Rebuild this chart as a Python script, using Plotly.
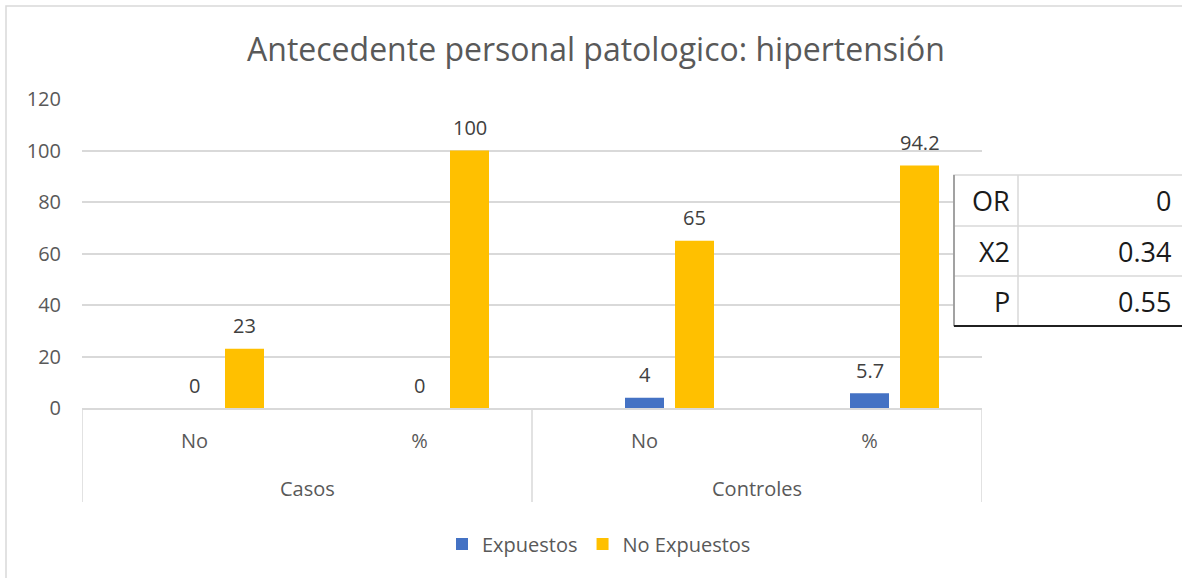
import plotly.graph_objects as go

# ---- data ----
group_labels = ["Casos", "Controles"]
sub_labels = ["No", "%", "No", "%"]
expuestos = [0, 0, 4, 5.7]
no_expuestos = [23, 100, 65, 94.2]
series_names = ["Expuestos", "No Expuestos"]
y_ticks = [0, 20, 40, 60, 80, 100, 120]
title_text = "Antecedente personal patologico: hipertensión"
table_labels = ["OR", "X2", "P"]
table_values = ["0", "0.34", "0.55"]

# ---- styling ----
BLUE = "#4472C4"
YELLOW = "#FFC000"
TXT = "#595959"
LBL = "#404040"
GRID = "#D9D9D9"
FONT = "Open Sans"
FS = 20

W, H = 1182, 578
L, R, T, B = 82, 200, 99, 170
PW = W - L - R
PH = H - T - B


def px_x(p):
    return (p - L) / PW


def px_y(p):
    return (H - B - p) / PH


n_cat = len(sub_labels)
cat_px = PW / n_cat                    # pixel width of one category
x_idx = list(range(n_cat))
bar_w = 39 / cat_px
offs = [0.0, 50 / cat_px]              # bar centre offsets within a category

fig = go.Figure()
for vals, name, col, off in [(expuestos, series_names[0], BLUE, offs[0]),
                             (no_expuestos, series_names[1], YELLOW, offs[1])]:
    fig.add_trace(go.Bar(x=x_idx, y=vals, name=name, marker_color=col,
                         marker_line_width=0, width=bar_w, offset=off - bar_w / 2,
                         hoverinfo="y"))

shapes = []
annotations = []

# data labels
for vals, off in [(expuestos, offs[0]), (no_expuestos, offs[1])]:
    for i, v in zip(x_idx, vals):
        annotations.append(dict(x=i + off, y=v, xref="x", yref="y", text=f"{v:g}",
                                showarrow=False, yshift=23, yanchor="middle",
                                font=dict(family=FONT, size=FS, color=LBL)))

# outer category labels and dividers
per_group = n_cat // len(group_labels)
for g, lab in enumerate(group_labels):
    xc = g * per_group + (per_group - 1) / 2
    annotations.append(dict(x=xc, y=px_y(488), xref="x", yref="paper", text=lab,
                            showarrow=False, yanchor="middle",
                            font=dict(family=FONT, size=FS, color=TXT)))
for g in range(len(group_labels) + 1):
    xd = g * per_group - 0.5
    shapes.append(dict(type="line", xref="x", yref="paper", x0=xd, x1=xd,
                       y0=0, y1=px_y(502), line=dict(color=GRID, width=1.5)))

# chart border (cropped on right / bottom)
shapes.append(dict(type="rect", xref="paper", yref="paper",
                   x0=px_x(6), x1=px_x(W + 20), y0=px_y(H + 20), y1=px_y(6),
                   line=dict(color=GRID, width=1.5), fillcolor="rgba(0,0,0,0)",
                   layer="below"))

# table
tx0, tx1, tx2 = 954, 1018, 1182
ty = [175, 226, 276, 326]
shapes.append(dict(type="rect", xref="paper", yref="paper",
                   x0=px_x(tx0), x1=px_x(tx2 + 5), y0=px_y(ty[3]), y1=px_y(ty[0]),
                   fillcolor="white", line=dict(color=GRID, width=1.5), layer="above"))
for yy in ty[1:3]:
    shapes.append(dict(type="line", xref="paper", yref="paper",
                       x0=px_x(tx0), x1=px_x(tx2 + 5), y0=px_y(yy), y1=px_y(yy),
                       line=dict(color=GRID, width=1.5), layer="above"))
shapes.append(dict(type="line", xref="paper", yref="paper",
                   x0=px_x(tx1), x1=px_x(tx1), y0=px_y(ty[3]), y1=px_y(ty[0]),
                   line=dict(color=GRID, width=1.5), layer="above"))
shapes.append(dict(type="line", xref="paper", yref="paper",
                   x0=px_x(tx0), x1=px_x(tx0), y0=px_y(ty[3]), y1=px_y(ty[0]),
                   line=dict(color="#8C8C8C", width=1.5), layer="above"))
shapes.append(dict(type="line", xref="paper", yref="paper",
                   x0=px_x(tx0), x1=px_x(tx2 + 5), y0=px_y(ty[3]), y1=px_y(ty[3]),
                   line=dict(color="#202020", width=2), layer="above"))
for i, (lab, val) in enumerate(zip(table_labels, table_values)):
    yc = px_y((ty[i] + ty[i + 1]) / 2)
    annotations.append(dict(xref="paper", yref="paper", x=px_x(tx1 - 6), y=yc,
                            text=lab, showarrow=False, xanchor="right", yanchor="middle",
                            font=dict(family=FONT, size=27, color="#1A1A1A")))
    annotations.append(dict(xref="paper", yref="paper", x=px_x(tx2 - 9), y=yc,
                            text=val, showarrow=False, xanchor="right", yanchor="middle",
                            font=dict(family=FONT, size=27, color="#1A1A1A")))

fig.update_layout(
    width=W, height=H,
    margin=dict(l=L, r=R, t=T, b=B),
    paper_bgcolor="white", plot_bgcolor="white",
    font=dict(family=FONT, color=TXT, size=FS),
    title=dict(text=title_text, x=596 / W, xanchor="center", xref="container",
               y=1 - 50 / H, yref="container", yanchor="middle",
               font=dict(family=FONT, size=32, color=TXT)),
    barmode="overlay",
    legend=dict(orientation="h", x=px_x(599), xanchor="center",
                y=px_y(544), yanchor="middle",
                font=dict(family=FONT, size=FS, color=TXT),
                itemwidth=30, tracegroupgap=0),
    xaxis=dict(range=[-0.5, n_cat - 0.5], tickvals=x_idx, ticktext=sub_labels,
               showline=True, linecolor=GRID, linewidth=1.5,
               tickfont=dict(family=FONT, size=FS, color=TXT),
               ticklabelstandoff=14, showgrid=False, zeroline=False, fixedrange=True),
    yaxis=dict(range=[0, 120], tickvals=y_ticks, showgrid=True, gridcolor=GRID,
               gridwidth=1.5, zeroline=False, showline=False,
               tickfont=dict(family=FONT, size=FS, color=TXT),
               ticklabelstandoff=20, fixedrange=True),
    shapes=shapes, annotations=annotations,
)

fig.write_html("out.html", config={"displayModeBar": False},
               post_script="document.body.style.margin='0';document.body.style.overflow='hidden';")
